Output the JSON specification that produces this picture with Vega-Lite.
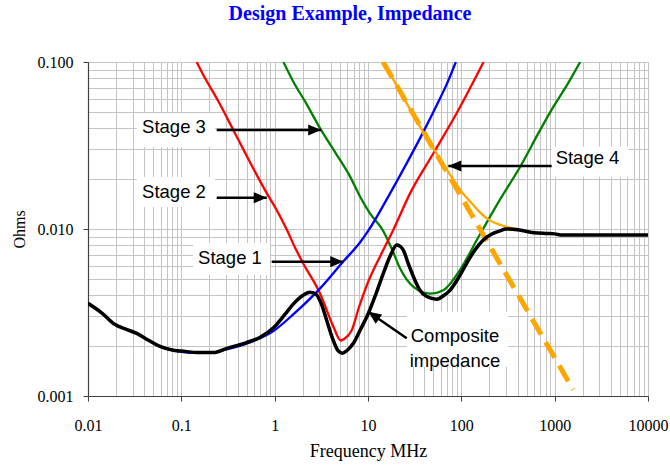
{
  "$schema": "https://vega.github.io/schema/vega-lite/v6.json",
  "width": 560,
  "height": 334,
  "autosize": {"type": "none"},
  "padding": {"left": 88, "top": 62, "right": 22, "bottom": 75},
  "background": "white",
  "config": {
    "view": {"stroke": "#8c8c8c", "strokeWidth": 1},
    "axis": {
      "domainColor": "#404040",
      "domainWidth": 1.2,
      "gridColor": "#c4c4c4",
      "gridWidth": 1,
      "tickColor": "#404040",
      "labelFont": "Liberation Serif",
      "labelColor": "black",
      "labelFontSize": 16,
      "titleFont": "Liberation Serif",
      "titleColor": "black",
      "titleFontWeight": "normal"
    }
  },
  "title": {
    "text": "Design Example, Impedance",
    "font": "Liberation Serif",
    "fontSize": 20,
    "fontWeight": "bold",
    "color": "#0000ff",
    "anchor": "middle",
    "frame": "group",
    "baseline": "bottom",
    "offset": 10,
    "dx": -18
  },
  "datasets": {
    "composite": [
      {"f": 0.01, "z": 0.00359}, {"f": 0.014, "z": 0.00315}, {"f": 0.0195, "z": 0.00268},
      {"f": 0.025, "z": 0.00252}, {"f": 0.0333, "z": 0.00237}, {"f": 0.045, "z": 0.00215},
      {"f": 0.059, "z": 0.00198}, {"f": 0.082, "z": 0.00188}, {"f": 0.11, "z": 0.00185},
      {"f": 0.146, "z": 0.00182}, {"f": 0.22, "z": 0.00182}, {"f": 0.307, "z": 0.00193},
      {"f": 0.5, "z": 0.00209}, {"f": 0.7, "z": 0.00225}, {"f": 0.97, "z": 0.00256},
      {"f": 1.3, "z": 0.0031}, {"f": 1.58, "z": 0.00355}, {"f": 2.0, "z": 0.004},
      {"f": 2.39, "z": 0.00418}, {"f": 2.8, "z": 0.00405}, {"f": 3.2, "z": 0.0035},
      {"f": 3.6, "z": 0.00285}, {"f": 4.25, "z": 0.00215}, {"f": 4.8, "z": 0.00186},
      {"f": 5.3, "z": 0.0018}, {"f": 6.0, "z": 0.00188}, {"f": 6.97, "z": 0.00207},
      {"f": 8.3, "z": 0.0025}, {"f": 10.1, "z": 0.00313}, {"f": 12, "z": 0.004},
      {"f": 14.6, "z": 0.00543}, {"f": 17.5, "z": 0.007}, {"f": 20.3, "z": 0.00802},
      {"f": 22, "z": 0.0079}, {"f": 23.9, "z": 0.00748}, {"f": 27, "z": 0.0062},
      {"f": 30.7, "z": 0.00518}, {"f": 36, "z": 0.0043}, {"f": 42.6, "z": 0.00394},
      {"f": 54.5, "z": 0.0038}, {"f": 65, "z": 0.004}, {"f": 75.9, "z": 0.00431},
      {"f": 95, "z": 0.0052}, {"f": 114, "z": 0.00623}, {"f": 140, "z": 0.0075},
      {"f": 172, "z": 0.0086}, {"f": 210, "z": 0.0093}, {"f": 260, "z": 0.00975},
      {"f": 300, "z": 0.01}, {"f": 400, "z": 0.0099}, {"f": 600, "z": 0.0095},
      {"f": 800, "z": 0.0094}, {"f": 1000, "z": 0.00935}, {"f": 1200, "z": 0.0092},
      {"f": 10000, "z": 0.0092}
    ],
    "stage1": [
      {"f": 0.07, "z": 0.00192}, {"f": 0.1, "z": 0.00184}, {"f": 0.15, "z": 0.00181},
      {"f": 0.22, "z": 0.00182}, {"f": 0.3, "z": 0.0019}, {"f": 0.5, "z": 0.00206},
      {"f": 0.97, "z": 0.00245}, {"f": 1.58, "z": 0.00308}, {"f": 3.07, "z": 0.00441},
      {"f": 5.4, "z": 0.00637}, {"f": 8.2, "z": 0.0083}, {"f": 10, "z": 0.0097},
      {"f": 17.3, "z": 0.0164}, {"f": 25, "z": 0.0238}, {"f": 39.3, "z": 0.0383},
      {"f": 54.6, "z": 0.0553}, {"f": 70, "z": 0.074}, {"f": 87.3, "z": 0.1}
    ],
    "stage2": [
      {"f": 0.146, "z": 0.1}, {"f": 0.172, "z": 0.0836}, {"f": 0.25, "z": 0.058},
      {"f": 0.36, "z": 0.0392}, {"f": 0.5, "z": 0.0275}, {"f": 0.822, "z": 0.0164},
      {"f": 1.05, "z": 0.013}, {"f": 1.35, "z": 0.0099}, {"f": 1.66, "z": 0.0077},
      {"f": 2.03, "z": 0.0062}, {"f": 3.07, "z": 0.0041}, {"f": 4.26, "z": 0.0026},
      {"f": 5.1, "z": 0.00215}, {"f": 5.6, "z": 0.0022}, {"f": 6.7, "z": 0.00248},
      {"f": 8, "z": 0.0034}, {"f": 9.7, "z": 0.0046}, {"f": 14.6, "z": 0.0075},
      {"f": 18.7, "z": 0.0099}, {"f": 28.3, "z": 0.0164}, {"f": 50.2, "z": 0.0284},
      {"f": 89, "z": 0.0493}, {"f": 173, "z": 0.1}
    ],
    "stage3": [
      {"f": 1.24, "z": 0.1}, {"f": 1.585, "z": 0.0762}, {"f": 2.2, "z": 0.056},
      {"f": 3.07, "z": 0.04}, {"f": 4.5, "z": 0.0285}, {"f": 6.43, "z": 0.0206},
      {"f": 8.23, "z": 0.0156}, {"f": 10.5, "z": 0.0124}, {"f": 14.6, "z": 0.0097},
      {"f": 18, "z": 0.0076}, {"f": 22.1, "z": 0.0058}, {"f": 30.7, "z": 0.0045},
      {"f": 46.4, "z": 0.0041}, {"f": 64.3, "z": 0.0043}, {"f": 97, "z": 0.0057},
      {"f": 150, "z": 0.0088}, {"f": 250, "z": 0.0145}, {"f": 427, "z": 0.0236},
      {"f": 700, "z": 0.0392}, {"f": 971, "z": 0.054}, {"f": 1400, "z": 0.075},
      {"f": 1875, "z": 0.1}
    ],
    "stage4": [
      {"f": 14.5, "z": 0.1}, {"f": 20, "z": 0.0733}, {"f": 30, "z": 0.049},
      {"f": 40, "z": 0.0372}, {"f": 50, "z": 0.0305}, {"f": 60, "z": 0.0258},
      {"f": 80, "z": 0.0202}, {"f": 100, "z": 0.0168}, {"f": 130, "z": 0.0142},
      {"f": 160, "z": 0.0125}, {"f": 200, "z": 0.0113}, {"f": 260, "z": 0.0106},
      {"f": 330, "z": 0.0102}, {"f": 400, "z": 0.01}
    ],
    "stage4cap": [
      {"f": 14.5, "z": 0.1}, {"f": 1580, "z": 0.00109}
    ],
    "boxes": [
      {"label": "Stage 3", "f": 0.03325, "f2": 0.2295, "z": 0.04951, "z2": 0.03097},
      {"label": "Stage 2", "f": 0.03325, "f2": 0.2295, "z": 0.02048, "z2": 0.01355},
      {"label": "Stage 1", "f": 0.1334, "f2": 0.891, "z": 0.008245, "z2": 0.005305},
      {"label": "Stage 4", "f": 929, "f2": 6152, "z": 0.0311, "z2": 0.02056},
      {"label": "Composite", "f": 26.0, "f2": 318, "z": 0.003197, "z2": 0.001497}
    ],
    "arrows": [
      {"label": "Stage 3", "f": 0.2393, "z": 0.03917, "f2": 3.15, "z2": 0.03917},
      {"label": "Stage 2", "f": 0.2393, "z": 0.01539, "f2": 0.8218, "z2": 0.01539},
      {"label": "Stage 1", "f": 0.929, "z": 0.006371, "f2": 5.43, "z2": 0.006371},
      {"label": "Stage 4", "f": 929, "z": 0.02383, "f2": 72.5, "z2": 0.02383},
      {"label": "Composite", "f": 26.0, "z": 0.002216, "f2": 10.07, "z2": 0.003197}
    ],
    "labels": [
      {"text": "Stage 3", "f": 0.0834, "z": 0.04064},
      {"text": "Stage 2", "f": 0.0834, "z": 0.01673},
      {"text": "Stage 1", "f": 0.3322, "z": 0.006678},
      {"text": "Stage 4", "f": 2249, "z": 0.02651},
      {"text": "Composite\nimpedance", "f": 85.5, "z": 0.002294}
    ]
  },
  "encoding": {
    "x": {
      "field": "f",
      "type": "quantitative",
      "scale": {"type": "log", "domain": [0.01, 10000], "nice": false},
      "axis": {
        "title": "Frequency MHz",
        "titleFontSize": 18,
        "titlePadding": 9,
        "values": [0.01,0.02,0.03,0.04,0.05,0.06,0.07,0.08,0.09,0.1,0.2,0.3,0.4,0.5,0.6,0.7,0.8,0.9,1,2,3,4,5,6,7,8,9,10,20,30,40,50,60,70,80,90,100,200,300,400,500,600,700,800,900,1000,2000,3000,4000,5000,6000,7000,8000,9000,10000],
        "labelExpr": "abs(log(datum.value)/LN10 - round(log(datum.value)/LN10)) < 0.001 ? format(datum.value, '~g') : ''",
        "labelFlush": false,
        "labelOverlap": false,
        "labelPadding": 16,
        "tickSize": 5,
        "tickOpacity": {"condition": {"test": "abs(log(datum.value)/LN10 - round(log(datum.value)/LN10)) < 0.001", "value": 1}, "value": 0},
        "grid": true
      }
    },
    "y": {
      "field": "z",
      "type": "quantitative",
      "scale": {"type": "log", "domain": [0.001, 0.1], "nice": false},
      "axis": {
        "title": "Ohms",
        "titleFontSize": 16,
        "titlePadding": 10,
        "values": [0.001,0.002,0.003,0.004,0.005,0.006,0.007,0.008,0.009,0.01,0.02,0.03,0.04,0.05,0.06,0.07,0.08,0.09,0.1],
        "labelExpr": "abs(log(datum.value)/LN10 - round(log(datum.value)/LN10)) < 0.001 ? format(datum.value, '.3f') : ''",
        "labelOverlap": false,
        "labelPadding": 10,
        "tickSize": 5,
        "tickOpacity": {"condition": {"test": "abs(log(datum.value)/LN10 - round(log(datum.value)/LN10)) < 0.001", "value": 1}, "value": 0},
        "grid": true
      }
    }
  },
  "layer": [
    {
      "data": {"name": "boxes"},
      "mark": {"type": "rect", "fill": "white", "stroke": null},
      "encoding": {
        "x2": {"field": "f2"},
        "y2": {"field": "z2"}
      }
    },
    {
      "data": {"name": "stage3"},
      "mark": {"type": "line", "color": "#008000", "strokeWidth": 2.3, "clip": true, "interpolate": "monotone"}
    },
    {
      "data": {"name": "stage2"},
      "mark": {"type": "line", "color": "#ff0000", "strokeWidth": 2.3, "clip": true, "interpolate": "monotone"}
    },
    {
      "data": {"name": "stage1"},
      "mark": {"type": "line", "color": "#0000ff", "strokeWidth": 2.3, "clip": true, "interpolate": "monotone"}
    },
    {
      "data": {"name": "stage4"},
      "mark": {"type": "line", "color": "#ffa500", "strokeWidth": 2.3, "clip": true, "interpolate": "monotone"}
    },
    {
      "data": {"name": "stage4cap"},
      "mark": {"type": "line", "color": "#ffa500", "strokeWidth": 5, "strokeDash": [18, 9], "strokeCap": "butt", "clip": true}
    },
    {
      "data": {"name": "composite"},
      "mark": {"type": "line", "color": "black", "strokeWidth": 3.5, "clip": true, "interpolate": "monotone"}
    },
    {
      "data": {"name": "arrows"},
      "mark": {"type": "rule", "color": "black", "strokeWidth": 2.5},
      "encoding": {
        "x2": {"field": "f2"},
        "y2": {"field": "z2"}
      }
    },
    {
      "data": {"name": "arrows"},
      "transform": [{"filter": "datum.label == 'Stage 1' || datum.label == 'Stage 2' || datum.label == 'Stage 3'"}],
      "mark": {"type": "point", "shape": "M0,0L-1,-0.43L-1,0.43Z", "filled": true, "color": "black", "opacity": 1, "size": 676, "angle": 0},
      "encoding": {
        "x": {"field": "f2", "type": "quantitative"},
        "y": {"field": "z2", "type": "quantitative"}
      }
    },
    {
      "data": {"name": "arrows"},
      "transform": [{"filter": "datum.label == 'Stage 4'"}],
      "mark": {"type": "point", "shape": "M0,0L-1,-0.43L-1,0.43Z", "filled": true, "color": "black", "opacity": 1, "size": 676, "angle": 180},
      "encoding": {
        "x": {"field": "f2", "type": "quantitative"},
        "y": {"field": "z2", "type": "quantitative"}
      }
    },
    {
      "data": {"name": "arrows"},
      "transform": [{"filter": "datum.label == 'Composite'"}],
      "mark": {"type": "point", "shape": "M0,0L-1,-0.43L-1,0.43Z", "filled": true, "color": "black", "opacity": 1, "size": 676, "angle": 215},
      "encoding": {
        "x": {"field": "f2", "type": "quantitative"},
        "y": {"field": "z2", "type": "quantitative"}
      }
    },
    {
      "data": {"name": "labels"},
      "mark": {"type": "text", "font": "Liberation Sans", "fontSize": 18.5, "color": "black", "align": "center", "baseline": "middle", "lineBreak": "\n", "lineHeight": 25},
      "encoding": {
        "text": {"field": "text"}
      }
    }
  ]
}
